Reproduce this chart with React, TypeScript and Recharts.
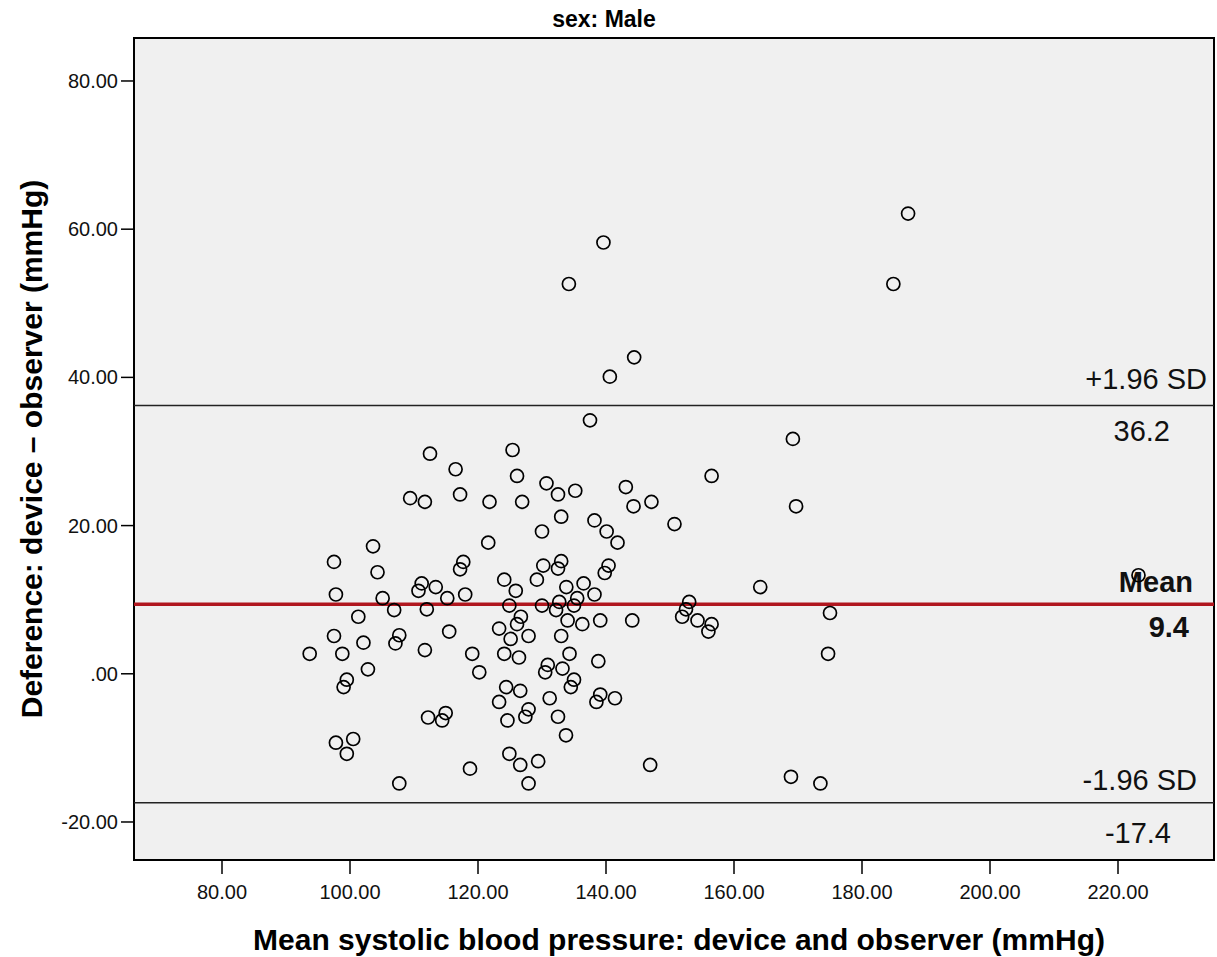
import { ScatterChart, Scatter, XAxis, YAxis, ReferenceLine, ReferenceArea } from 'recharts'

const meanBP = [
  187.2, 139.6, 134.2, 184.9, 144.4, 140.6, 137.5, 169.2, 125.4, 112.5,
  116.5, 126.1, 156.5, 130.7, 143.1, 135.2, 117.2, 132.5, 109.4, 111.7,
  121.8, 126.9, 147.1, 144.3, 169.7, 133.0, 150.7, 138.2, 130.0, 140.1,
  141.8, 121.6, 103.6, 97.5, 117.7, 117.2, 104.3, 130.2, 133.0, 132.5,
  140.4, 139.8, 124.1, 129.2, 111.2, 110.7, 113.4, 125.9, 133.8, 136.5,
  138.2, 135.5, 118.0, 97.8, 105.1, 115.2, 164.1, 223.2, 124.9, 130.0,
  132.7, 132.2, 135.0, 153.0, 152.5, 151.9, 154.3, 156.5, 156.0, 175.0,
  106.9, 112.0, 101.3, 126.7, 126.1, 123.3, 134.0, 136.3, 139.1, 144.1,
  127.9, 125.1, 133.0, 97.5, 102.1, 107.7, 107.1, 115.5, 93.7, 98.8,
  111.7, 119.1, 124.1, 126.4, 134.3, 138.8, 174.7, 120.2, 102.8, 130.9,
  130.5, 133.2, 99.5, 99.0, 135.0, 134.5, 124.4, 126.6, 123.3, 131.2,
  139.1, 138.5, 141.4, 127.9, 127.4, 124.6, 132.5, 112.2, 114.95, 114.4,
  133.75, 97.8, 100.5, 99.5, 124.9, 126.6, 129.4, 118.75, 146.9, 127.9,
  107.7, 168.9, 173.5,
]

const diffBP = [
  62.1, 58.2, 52.6, 52.6, 42.7, 40.1, 34.2, 31.7, 30.2, 29.7,
  27.6, 26.7, 26.7, 25.7, 25.2, 24.7, 24.2, 24.2, 23.7, 23.2,
  23.2, 23.2, 23.2, 22.6, 22.6, 21.2, 20.2, 20.7, 19.2, 19.2,
  17.7, 17.7, 17.2, 15.1, 15.1, 14.1, 13.7, 14.6, 15.2, 14.2,
  14.6, 13.6, 12.7, 12.7, 12.2, 11.2, 11.7, 11.2, 11.7, 12.2,
  10.7, 10.2, 10.7, 10.7, 10.2, 10.2, 11.7, 13.3, 9.2, 9.2,
  9.7, 8.6, 9.2, 9.7, 8.7, 7.7, 7.2, 6.7, 5.7, 8.2,
  8.6, 8.7, 7.7, 7.7, 6.7, 6.1, 7.2, 6.7, 7.2, 7.2,
  5.1, 4.7, 5.1, 5.1, 4.2, 5.2, 4.1, 5.7, 2.7, 2.7,
  3.2, 2.7, 2.7, 2.2, 2.7, 1.7, 2.7, 0.2, 0.6, 1.2,
  0.2, 0.7, -0.8, -1.8, -0.8, -1.8, -1.8, -2.3, -3.8, -3.3,
  -2.8, -3.8, -3.3, -4.8, -5.8, -6.3, -5.8, -5.9, -5.3, -6.3,
  -8.3, -9.3, -8.8, -10.8, -10.8, -12.3, -11.8, -12.8, -12.3, -14.8,
  -14.8, -13.9, -14.8,
]

const xTicks = [80, 100, 120, 140, 160, 180, 200, 220]
const yTicks = [-20, 0, 20, 40, 60, 80]

const meanDiff = 9.4
const upperLimit = 36.2
const lowerLimit = -17.4

const X_DOMAIN: [number, number] = [66.25, 235]
const Y_DOMAIN: [number, number] = [-25.13, 85.8]

const FONT = "'Liberation Sans', Arial, sans-serif"

const points = meanBP.map((x, i) => ({ x, y: diffBP[i] }))

const fmt = (v: number) => (v === 0 ? '.00' : v.toFixed(2))

const Ring = (props: any) => {
  if (props.cx == null || props.cy == null) return <g />
  return <circle cx={props.cx} cy={props.cy} r={6.5} fill='none' stroke='#000' strokeWidth={1.7} />
}

// two texts per line: one above, one below, right aligned
const LineLabel = (props: any) => {
  const vb = props.viewBox || { x: 134, y: 0, width: 1080 }
  const right = vb.x + vb.width
  const weight = props.bold ? 'bold' : 'normal'
  return (
    <g>
      <text x={right - props.aboveEnd} y={vb.y - props.aboveDy} textAnchor='end'
        fontSize={29} fontWeight={weight} fontFamily={FONT} fill='#111'>{props.above}</text>
      <text x={right - props.belowEnd} y={vb.y + props.belowDy} textAnchor='end'
        fontSize={29} fontWeight={weight} fontFamily={FONT} fill='#111'>{props.below}</text>
    </g>
  )
}

const ChartTitle = (props: any) => {
  const vb = props.viewBox || { x: 134, y: 38, width: 1080 }
  return (
    <text x={604} y={vb.y - 11} textAnchor='middle' fontSize={23} fontWeight='bold'
      fontFamily={FONT} fill='#000'>sex: Male</text>
  )
}

const XTitle = (props: any) => {
  const vb = props.viewBox || { x: 134, y: 860, width: 1080 }
  return (
    <text x={vb.x + vb.width / 2 + 5} y={950} textAnchor='middle' fontSize={30} fontWeight='bold'
      fontFamily={FONT} fill='#000'>Mean systolic blood pressure: device and observer (mmHg)</text>
  )
}

const YTitle = (props: any) => {
  const vb = props.viewBox || { x: 0, y: 38, height: 822 }
  const cx = 42
  const cy = vb.y + vb.height / 2
  return (
    <text x={cx} y={cy} transform={`rotate(-90 ${cx} ${cy})`} textAnchor='middle' fontSize={30}
      fontWeight='bold' fontFamily={FONT} fill='#000'>Deference: device – observer (mmHg)</text>
  )
}

export default function App() {
  return (
    <div style={{ position: 'absolute', left: 0, top: 0, background: '#fff' }}>
      <ScatterChart width={1217} height={957} margin={{ top: 38, right: 3, bottom: 0, left: 0 }}>
        <ReferenceArea
          x1={X_DOMAIN[0]}
          x2={X_DOMAIN[1]}
          y1={Y_DOMAIN[0]}
          y2={Y_DOMAIN[1]}
          fill='#f0f0f0'
          fillOpacity={1}
          stroke='#000'
          strokeWidth={2}
          ifOverflow='visible'
          label={<ChartTitle />}
        />
        <XAxis
          type='number'
          dataKey='x'
          domain={X_DOMAIN}
          allowDataOverflow
          ticks={xTicks}
          tickFormatter={fmt}
          height={97}
          tickSize={14}
          tickMargin={11}
          axisLine={false}
          tickLine={{ stroke: '#000', strokeWidth: 1.5 }}
          tick={{ fontSize: 20, fill: '#111', fontFamily: FONT }}
          label={<XTitle />}
        />
        <YAxis
          type='number'
          dataKey='y'
          domain={Y_DOMAIN}
          allowDataOverflow
          ticks={yTicks}
          tickFormatter={fmt}
          width={134}
          tickSize={13}
          tickMargin={3}
          axisLine={false}
          tickLine={{ stroke: '#000', strokeWidth: 1.5 }}
          tick={{ fontSize: 20, fill: '#111', fontFamily: FONT }}
          label={<YTitle />}
        />
        <ReferenceLine
          y={upperLimit}
          stroke='#222'
          strokeWidth={1.5}
          label={<LineLabel above='+1.96 SD' below={upperLimit.toFixed(1)} aboveEnd={7} aboveDy={17} belowEnd={44} belowDy={35} />}
        />
        <ReferenceLine
          y={lowerLimit}
          stroke='#222'
          strokeWidth={1.5}
          label={<LineLabel above='-1.96 SD' below={lowerLimit.toFixed(1)} aboveEnd={17} aboveDy={13} belowEnd={43} belowDy={40} />}
        />
        <ReferenceLine
          y={meanDiff}
          stroke='#b0161e'
          strokeWidth={3.5}
          label={<LineLabel bold above='Mean' below={meanDiff.toFixed(1)} aboveEnd={21} aboveDy={12} belowEnd={25} belowDy={33} />}
        />
        <Scatter data={points} shape={<Ring />} isAnimationActive={false} />
      </ScatterChart>
    </div>
  )
}
